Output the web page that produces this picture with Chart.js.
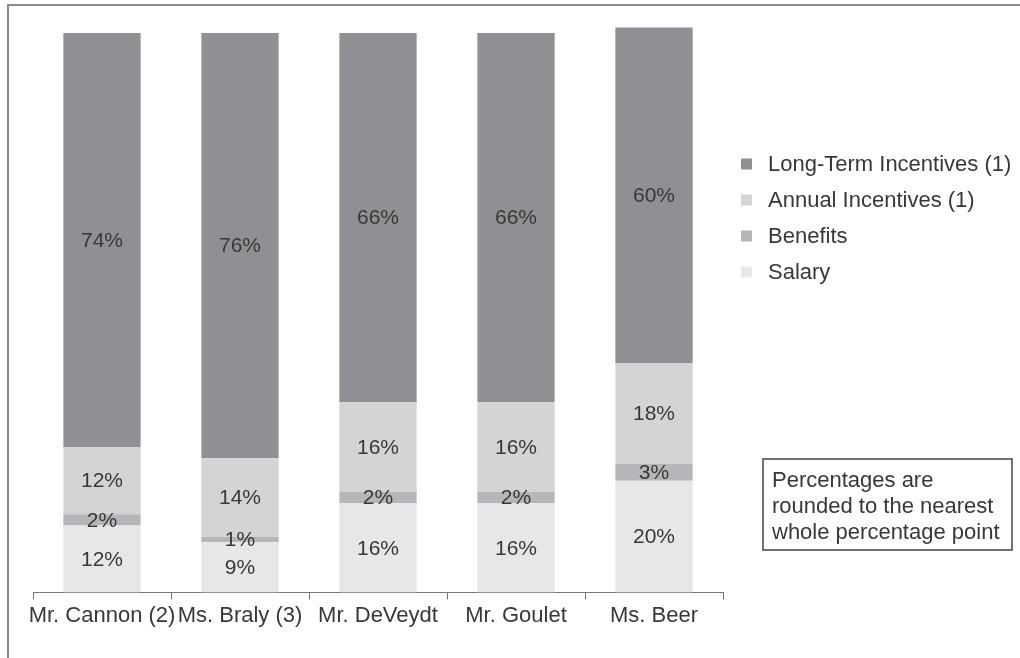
<!DOCTYPE html>
<html>
<head>
<meta charset="utf-8">
<script src="https://cdn.jsdelivr.net/npm/chart.js@4"></script>
<style>
  html, body { margin: 0; padding: 0; background: #fff; }
  #wrap { width: 1020px; height: 658px; position: relative; }
</style>
</head>
<body>
<div id="wrap"><canvas id="c" width="1020" height="658"></canvas></div>
<script>
const categories = ["Mr. Cannon (2)", "Ms. Braly (3)", "Mr. DeVeydt", "Mr. Goulet", "Ms. Beer"];
const salary = [12, 9, 16, 16, 20];
const benefits = [2, 1, 2, 2, 3];
const annualIncentives = [12, 14, 16, 16, 18];
const longTermIncentives = [74, 76, 66, 66, 60];
const seriesNames = ["Salary", "Benefits", "Annual Incentives (1)", "Long-Term Incentives (1)"];
const noteLines = ["Percentages are", "rounded to the nearest", "whole percentage point"];

const colors = ["#e6e7e8", "#b5b6b9", "#d3d4d6", "#8f9094"];
const FONT = "'Liberation Sans', Arial, Helvetica, sans-serif";
const TEXT = "#383838";

const framePlugin = {
  id: 'frame',
  beforeDraw(chart) {
    const ctx = chart.ctx;
    ctx.save();
    ctx.fillStyle = '#ffffff';
    ctx.fillRect(0, 0, chart.width, chart.height);
    ctx.strokeStyle = '#8a8a8a';
    ctx.lineWidth = 2;
    ctx.beginPath();
    ctx.moveTo(8, chart.height);
    ctx.lineTo(8, 5);
    ctx.lineTo(chart.width, 5);
    ctx.stroke();
    ctx.restore();
  }
};

const labelPlugin = {
  id: 'segLabels',
  afterDatasetsDraw(chart) {
    const ctx = chart.ctx;
    ctx.save();
    ctx.font = "21px " + FONT;
    ctx.fillStyle = TEXT;
    ctx.textAlign = 'center';
    ctx.textBaseline = 'middle';
    chart.data.datasets.forEach((ds, di) => {
      const meta = chart.getDatasetMeta(di);
      meta.data.forEach((bar, i) => {
        const cy = (bar.y + bar.base) / 2;
        ctx.fillText(ds.data[i] + '%', bar.x, cy + 1);
      });
    });
    ctx.restore();
  }
};

const legendPlugin = {
  id: 'customLegend',
  afterDraw(chart) {
    const ctx = chart.ctx;
    ctx.save();
    ctx.font = "22px " + FONT;
    ctx.textBaseline = 'middle';
    ctx.textAlign = 'left';
    const ds = chart.data.datasets.slice().reverse();
    ds.forEach((d, k) => {
      const y = 164 + k * 36;
      ctx.fillStyle = d.backgroundColor;
      ctx.fillRect(741, y - 5.5, 11, 11);
      ctx.fillStyle = TEXT;
      ctx.fillText(d.label, 768, y + 1);
    });
    // note box
    ctx.strokeStyle = '#444';
    ctx.lineWidth = 1.5;
    ctx.strokeRect(763, 459, 249, 91);
    ctx.fillStyle = TEXT;
    noteLines.forEach((t, k) => {
      ctx.fillText(t, 772, 481 + k * 26);
    });
    ctx.restore();
  }
};

const seriesData = [salary, benefits, annualIncentives, longTermIncentives];

new Chart(document.getElementById('c'), {
  type: 'bar',
  data: {
    labels: categories,
    datasets: seriesNames.map((n, i) => ({
      label: n,
      data: seriesData[i],
      backgroundColor: colors[i],
      borderWidth: 0,
      categoryPercentage: 1.0,
      barPercentage: 0.56
    }))
  },
  options: {
    responsive: false,
    animation: false,
    devicePixelRatio: 1,
    layout: { padding: { left: 33, right: 297, top: 5, bottom: 26 } },
    plugins: {
      legend: { display: false },
      tooltip: { enabled: false }
    },
    scales: {
      x: {
        stacked: true,
        grid: {
          display: true,
          offset: true,
          drawOnChartArea: false,
          drawTicks: true,
          tickLength: 7,
          color: '#777'
        },
        border: { display: true, color: '#777', width: 1 },
        ticks: {
          color: TEXT,
          font: { family: FONT, size: 22 },
          padding: 3,
          maxRotation: 0,
          autoSkip: false
        }
      },
      y: {
        stacked: true,
        display: false,
        min: 0,
        max: 105
      }
    }
  },
  plugins: [framePlugin, labelPlugin, legendPlugin]
});
</script>
</body>
</html>
